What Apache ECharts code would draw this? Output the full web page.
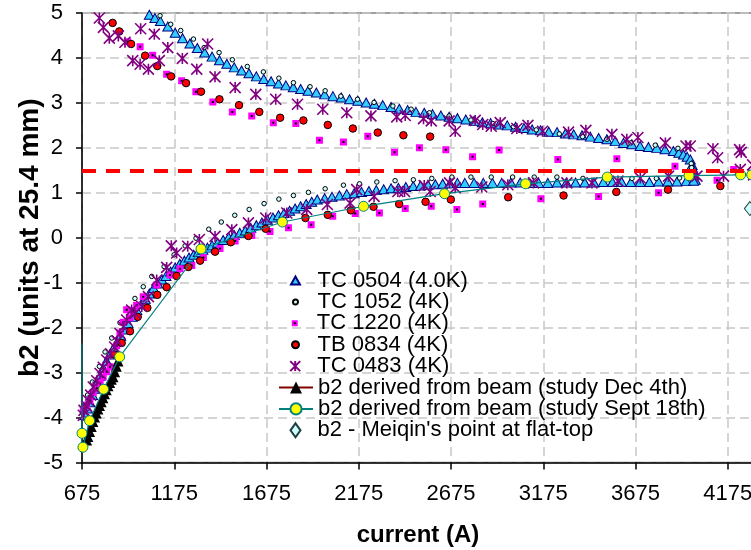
<!DOCTYPE html>
<html>
<head>
<meta charset="utf-8">
<script src="https://cdn.jsdelivr.net/npm/echarts/dist/echarts.min.js"></script>
<style>
  html, body { margin: 0; padding: 0; background: #ffffff; }
  #chart { width: 751px; height: 550px; }
</style>
</head>
<body>
<div id="chart"></div>
<script>
// b2 vs current: magnet measurements and beam-derived estimates

const seriesNames = [
  'TC 0504 (4.0K)',
  'TC 1052 (4K)',
  'TC 1220 (4K)',
  'TB 0834 (4K)',
  'TC 0483 (4K)',
  'b2 derived from beam (study Dec 4th)',
  'b2 derived from beam (study Sept 18th)',
  "b2 - Meiqin's point at flat-top"
];

// x axis: current (A)
const currentMin = 675;
const currentMax = 4675;
const currentStep = 500;
// y axis: b2 (units)
const b2Min = -5;
const b2Max = 5;
const b2Step = 1;
// reference level (dashed red)
const b2Reference = 1.48;

// TC 0504: down-ramp (upper branch) and up-ramp (lower branch)
const tc0504Up = [
  [1040,4.96],[1070,4.89],[1100,4.82],[1140,4.70],[1180,4.56],[1220,4.44],[1260,4.32],[1300,4.22],
  [1340,4.12],[1380,4.03],[1420,3.95],[1460,3.87],[1500,3.79],[1540,3.72],[1580,3.66],[1620,3.59],
  [1660,3.53],[1700,3.48],[1740,3.43],[1780,3.39],[1820,3.35],[1860,3.31],[1900,3.27],[1945,3.23],
  [1990,3.19],[2035,3.15],[2080,3.12],[2125,3.08],[2170,3.05],[2215,3.01],[2260,2.98],[2305,2.95],
  [2350,2.91],[2395,2.87],[2440,2.84],[2485,2.80],[2530,2.78],[2575,2.75],[2620,2.72],[2665,2.69],
  [2710,2.66],[2755,2.63],[2800,2.60],[2845,2.57],[2890,2.55],[2935,2.52],[2980,2.50],[3025,2.47],
  [3070,2.44],[3115,2.41],[3160,2.39],[3205,2.36],[3250,2.35],[3295,2.32],[3340,2.30],[3385,2.28],
  [3430,2.25],[3475,2.22],[3520,2.19],[3565,2.15],[3610,2.11],[3655,2.08],[3700,2.04],[3745,2.02],
  [3790,2.00],[3835,1.97],[3880,1.93],[3910,1.89],[3935,1.85],[3955,1.80],[3972,1.74],[3982,1.62],
  [3988,1.52],[3994,1.40],[3999,1.29]
];
const tc0504Dn = [
  [691,-3.95],[705,-3.80],[718,-3.66],[732,-3.50],[745,-3.36],[759,-3.21],[773,-3.07],[790,-2.90],
  [808,-2.74],[826,-2.60],[845,-2.46],[865,-2.32],[885,-2.18],[905,-2.04],[925,-1.90],[948,-1.76],
  [972,-1.61],[995,-1.48],[1018,-1.36],[1040,-1.24],[1063,-1.12],[1085,-1.02],[1108,-0.93],[1130,-0.85],
  [1155,-0.75],[1180,-0.66],[1205,-0.58],[1230,-0.51],[1255,-0.44],[1280,-0.38],[1305,-0.32],[1330,-0.27],
  [1355,-0.22],[1380,-0.17],[1410,-0.11],[1440,-0.05],[1470,0.01],[1500,0.06],[1530,0.11],[1560,0.16],
  [1590,0.22],[1620,0.28],[1650,0.34],[1680,0.40],[1710,0.45],[1740,0.50],[1770,0.55],[1800,0.60],
  [1830,0.65],[1860,0.70],[1890,0.75],[1920,0.80],[1950,0.85],[1990,0.88],[2030,0.91],[2070,0.94],
  [2110,0.97],[2150,0.99],[2190,1.02],[2230,1.04],[2270,1.06],[2310,1.08],[2350,1.10],[2390,1.11],
  [2430,1.13],[2470,1.15],[2510,1.16],[2550,1.18],[2590,1.19],[2630,1.20],[2670,1.21],[2710,1.22],
  [2750,1.22],[2800,1.22],[2850,1.22],[2900,1.22],[2950,1.22],[3000,1.23],[3050,1.23],[3100,1.22],
  [3150,1.22],[3200,1.22],[3250,1.23],[3300,1.23],[3350,1.23],[3400,1.23],[3450,1.23],[3500,1.24],
  [3550,1.24],[3600,1.24],[3650,1.24],[3700,1.24],[3750,1.24],[3800,1.25],[3850,1.25],[3900,1.25],
  [3950,1.26],[3990,1.27]
];

// TC 1052
const tc1052 = [
  [1098,4.94],[1156,4.75],[1210,4.61],[1279,4.42],[1337,4.23],[1418,4.12],[1490,3.96],[1571,3.81],
  [1658,3.69],[1742,3.55],[1821,3.45],[1911,3.36],[1993,3.27],[2078,3.15],[2168,3.08],[2258,3.01],
  [2360,2.93],[2459,2.86],[2558,2.78],[2665,2.71],[2783,2.62],[2902,2.54],[3014,2.47],[3137,2.40],
  [3262,2.31],[3388,2.25],[3520,2.19],[3650,2.11],[3782,2.06],[3905,1.99],[3977,1.65],[3979,1.56],
  [3914,1.33],[3788,1.32],[3656,1.32],[3520,1.33],[3390,1.32],[3249,1.35],[3126,1.35],[3009,1.35],
  [2893,1.35],[2783,1.35],[2680,1.35],[2571,1.32],[2471,1.29],[2372,1.27],[2273,1.24],[2179,1.20],
  [2092,1.17],[1993,1.09],[1902,1.01],[1821,0.94],[1742,0.86],[1662,0.76],[1581,0.63],[1503,0.50],
  [1430,0.35],[1362,0.19],[1293,-0.01],[1234,-0.18],[1174,-0.38],[1120,-0.64],[1053,-0.86],[1007,-1.09],
  [962,-1.35],[917,-1.61],[881,-1.89],[836,-2.23],[800,-2.54],[769,-2.86],[731,-3.21],[705,-3.50],
  [690,-3.75]
];

// TC 1220
const tc1220 = [
  [923,4.36],[990,4.25],[1058,4.06],[1134,3.64],[1215,3.49],[1292,3.25],[1384,3.02],[1490,2.80],
  [1595,2.71],[1712,2.56],[1834,2.54],[1962,2.17],[2092,2.13],[2224,2.26],[2369,1.90],[2504,2.00],
  [2647,1.96],[2792,1.80],[2936,1.95],[3254,1.74],[3574,1.76],[3889,1.59],[4207,1.52],
  [4117,1.28],[3800,1.00],[3475,0.92],[3162,0.87],[2847,0.75],[2707,0.63],[2568,0.70],[2427,0.65],
  [2287,0.55],[2156,0.54],[2034,0.48],[1917,0.29],[1794,0.22],[1694,0.14],[1595,0.05],[1505,-0.07],
  [1423,-0.24],[1333,-0.44],[1270,-0.62],[1206,-0.69],[1152,-0.83],[1080,-1.05],[1007,-1.31],[971,-1.50],
  [953,-1.62],[935,-1.78],[917,-1.60],[899,-1.88],[881,-2.12],[863,-2.40],[845,-2.60],[827,-2.87],
  [809,-2.98],[790,-3.10],[773,-3.24],[755,-3.35],[736,-3.45],[718,-3.62],[700,-3.72],[682,-3.84]
];

// TB 0834
const tb0834 = [
  [841,4.78],[877,4.59],[941,4.31],[1017,4.05],[1083,3.82],[1158,3.59],[1239,3.44],[1320,3.25],
  [1420,3.08],[1526,2.95],[1636,2.80],[1749,2.67],[1875,2.61],[2007,2.51],[2143,2.43],[2278,2.34],
  [2417,2.28],[2562,2.25],
  [4135,1.15],[3851,1.07],[3571,1.02],[3285,0.94],[2985,0.90],[2674,0.85],[2537,0.80],[2394,0.75],
  [2255,0.69],[2132,0.61],[2007,0.51],[1886,0.44],[1671,0.20],[1577,0.04],[1481,-0.10],[1396,-0.31],
  [1315,-0.51],[1251,-0.65],[1188,-0.85],[1134,-1.10],[1083,-1.27],[1029,-1.56],[977,-1.76],[935,-2.08],
  [890,-2.34],[850,-2.60]
];

// TC 0483
const tc0483 = [
  [769,4.89],[791,4.68],[823,4.44],[872,4.49],[908,4.35],[950,3.94],[990,3.86],[993,4.65],
  [1035,3.75],[1067,4.53],[1094,3.94],[1140,4.23],[1219,3.99],[1297,3.75],[1356,4.31],[1396,3.58],
  [1505,3.34],[1617,3.19],[1725,3.08],[1843,2.97],[1980,2.86],[2110,2.78],[2241,2.71],[2381,2.69],
  [2427,2.72],[2526,2.65],[2568,2.60],[2665,2.60],[2698,2.37],[2806,2.61],[2847,2.52],[2893,2.48],
  [2942,2.56],[3032,2.43],[3092,2.50],[3171,2.37],[3312,2.35],[3406,2.39],[3547,2.30],[3628,2.19],
  [3688,2.23],[3837,2.11],[3949,2.04],[3972,2.04],[4095,1.98],[4120,1.78],[4239,1.96],[4248,1.90],
  [4310,1.62],[4315,1.40],
  [4243,1.52],[4152,1.37],[4008,1.37],[3854,1.37],[3701,1.33],[3580,1.26],[3439,1.22],[3303,1.22],
  [3122,1.22],[2983,1.18],[2842,1.13],[2698,1.11],[2667,1.22],[2562,1.03],[2530,1.16],[2423,1.03],
  [2387,1.03],[2258,0.92],[2164,1.07],[2128,0.77],[2005,0.74],[1893,0.63],[1785,0.55],[1671,0.44],
  [1577,0.33],[1487,0.18],[1396,0.03],[1311,-0.04],[1248,-0.19],[1188,-0.34],[1159,-0.18],[1134,-0.66],
  [1080,-0.94],[1035,-1.31],[999,-1.53],[962,-1.68],[944,-1.61],[917,-1.83],[899,-1.98],[881,-2.13],
  [866,-2.30],[852,-2.43],[830,-2.58],[809,-2.72],[790,-2.88],[773,-3.02],[755,-3.18],[736,-3.32],
  [722,-3.50],[709,-3.62],[700,-3.75],[686,-3.84],[682,-3.95]
];

// Beam-derived b2, study of Dec 4th
const beamDec4 = [
  [700,-4.50],[707,-4.42],[716,-4.31],[725,-4.20],[734,-4.09],[743,-3.99],[752,-3.90],[761,-3.81],
  [770,-3.73],[779,-3.65],[788,-3.56],[797,-3.47],[806,-3.38],[816,-3.29],[825,-3.22],[834,-3.15],
  [843,-3.09],[852,-2.98],[861,-2.86],[870,-2.74]
];

// Beam-derived b2, study of Sept 18th (first entry carries no marker)
const beamSept18 = [
  [675,-2.35],[675,-4.35],[671,-4.57],[680,-4.66],[716,-4.07],[792,-3.37],[879,-2.65],[1320,-0.25],
  [1761,0.35],[2201,0.70],[2640,0.98],[3079,1.20],[3522,1.35],[3965,1.38],[4245,1.40],[4305,1.40]
];

// Flat-top point
const meiqinPoint = [[4295,0.65]];

const FONT = '"Liberation Sans", Arial, sans-serif';

// marker outlines as paths so legend icons keep their proportions
const SYM = {
  triangle: 'path://M5 0 L10 9 L0 9 Z',
  circle: 'path://M5 0 A5 5 0 1 1 4.999 0 Z',
  square: 'path://M0 0 L10 0 L10 10 L0 10 Z',
  diamond: 'path://M5 0 L10 7 L5 14 L0 7 Z',
  asterisk: 'path://M0 0 L10 10 M0 10 L10 0 M5 0 L5 10'
};

const chart = echarts.init(document.getElementById('chart'), null, { renderer: 'canvas' });

const series = [
  {
    name: seriesNames[0], type: 'scatter', z: 2,
    data: tc0504Up.concat(tc0504Dn),
    symbol: SYM.triangle, symbolSize: [10, 9],
    itemStyle: { color: '#33CCFF', borderColor: '#000080', borderWidth: 1, opacity: 1 }
  },
  {
    name: seriesNames[1], type: 'scatter', z: 3,
    data: tc1052,
    symbol: SYM.circle, symbolSize: 4.5,
    itemStyle: { color: '#CCFFFF', borderColor: '#000000', borderWidth: 1, opacity: 1 }
  },
  {
    name: seriesNames[2], type: 'scatter', z: 4,
    data: tc1220,
    symbol: SYM.square, symbolSize: 4.5,
    itemStyle: { color: '#000000', borderColor: '#FF00FF', borderWidth: 2.5, opacity: 1 }
  },
  {
    name: seriesNames[3], type: 'scatter', z: 5,
    data: tb0834,
    symbol: SYM.circle, symbolSize: 7.5,
    itemStyle: { color: '#FF0000', borderColor: '#000000', borderWidth: 1, opacity: 1 }
  },
  {
    name: seriesNames[4], type: 'scatter', z: 6,
    data: tc0483,
    symbol: SYM.asterisk, symbolSize: 11,
    itemStyle: { color: 'transparent', borderColor: '#800080', borderWidth: 1.6, opacity: 1 }
  },
  {
    name: seriesNames[5], type: 'line', z: 7,
    data: beamDec4,
    symbol: 'triangle', symbolSize: 11, showSymbol: true,
    itemStyle: { color: '#000000' },
    lineStyle: { color: '#800000', width: 1 }
  },
  {
    name: seriesNames[6], type: 'line', z: 8,
    data: beamSept18.map((p, i) => (i === 0 ? { value: p, symbol: 'none' } : p)),
    symbol: 'circle', symbolSize: 10, showSymbol: true,
    itemStyle: { color: '#FFFF00', borderColor: '#008080', borderWidth: 1 },
    lineStyle: { color: '#008080', width: 1.2 },
    markLine: {
      silent: true, symbol: 'none', z: 20,
      label: { show: false },
      lineStyle: { color: '#FF0000', width: 4, type: [14, 10] },
      data: [{ yAxis: b2Reference }]
    }
  },
  {
    name: seriesNames[7], type: 'scatter', z: 9,
    data: meiqinPoint,
    symbol: SYM.diamond, symbolSize: [11, 14],
    itemStyle: { color: '#CCFFFF', borderColor: '#1f4040', borderWidth: 1, opacity: 1 }
  }
];

// one legend row per series so each icon keeps its own size;
// marker-only rows are anchored at the icon's left edge, so shift them by half the icon width
const legendIconHeights = [8, 5, 4, 7, 10, 15, 14, 14];
const legendIconHalfWidths = [5, 3, 3.25, 4, 5.8, 17, 17, 5.5];
const legendIconCenter = 295;
const legends = seriesNames.map((n, i) => ({
  data: [n],
  left: legendIconCenter - legendIconHalfWidths[i],
  top: 269.5 + i * 21.4,
  padding: 0,
  itemWidth: 34,
  itemHeight: legendIconHeights[i],
  symbolKeepAspect: true,
  selectedMode: false,
  textStyle: { fontSize: 22, color: '#000000', fontFamily: FONT }
}));

chart.setOption({
  animation: false,
  backgroundColor: '#ffffff',
  grid: {
    left: 82, top: 13, width: 738, height: 449.5,
    show: true, borderColor: '#808080', borderWidth: 1.5,
    backgroundColor: 'transparent',
    outerBoundsMode: 'none',
    containLabel: false
  },
  legend: legends,
  xAxis: {
    type: 'value',
    min: currentMin, max: currentMax, interval: currentStep,
    axisLine: { onZero: false, lineStyle: { color: '#000000', width: 1.5 } },
    axisTick: { show: true, length: 7, lineStyle: { color: '#000000', width: 1.5 } },
    axisLabel: {
      fontSize: 22, color: '#000000', margin: 20, fontFamily: FONT, hideOverlap: false,
      formatter: (v) => String(v)
    },
    splitLine: { show: true, lineStyle: { color: '#c8c8c8', width: 1.5, type: [9, 5] } }
  },
  yAxis: {
    type: 'value',
    min: b2Min, max: b2Max, interval: b2Step,
    name: 'b2 (units at 25.4 mm)',
    nameLocation: 'middle', nameGap: 38, nameRotate: 90,
    nameMoveOverlap: false,
    nameTextStyle: { fontSize: 28, fontWeight: 'bold', color: '#000000', fontFamily: FONT },
    axisLine: { onZero: false, lineStyle: { color: '#000000', width: 1.5 } },
    axisTick: { show: true, length: 6, lineStyle: { color: '#000000', width: 1.5 } },
    axisLabel: { fontSize: 22, color: '#000000', margin: 19, fontFamily: FONT },
    splitLine: { show: true, lineStyle: { color: '#c8c8c8', width: 1.5, type: [9, 5] } }
  },
  graphic: [{
    type: 'text', x: 418, y: 535, z: 100,
    style: {
      text: 'current (A)', align: 'center', verticalAlign: 'middle',
      fontSize: 24, fontWeight: 'bold', fill: '#000000', fontFamily: FONT
    }
  }],
  series: series
});
</script>
</body>
</html>
